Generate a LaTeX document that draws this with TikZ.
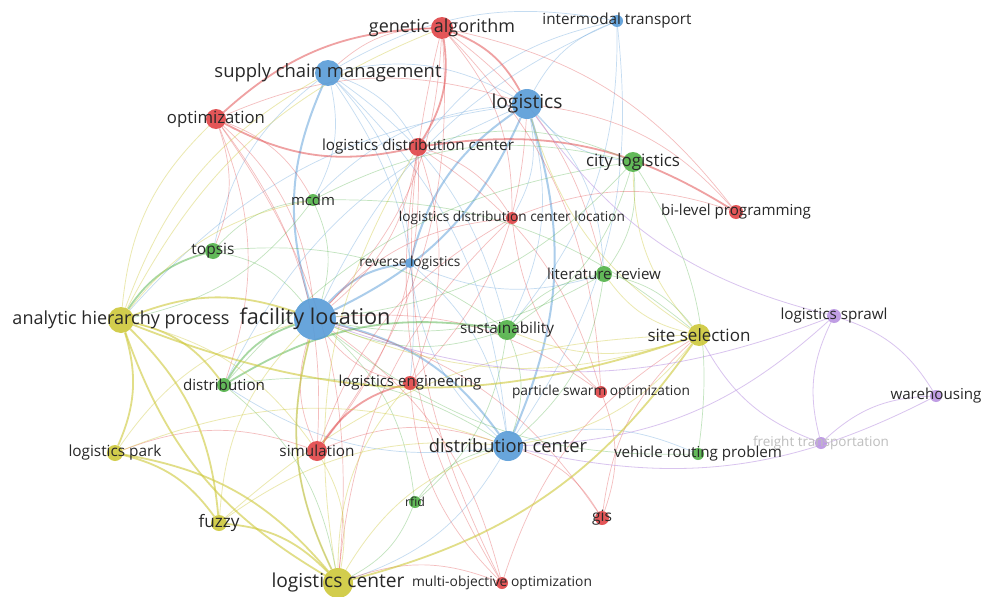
\documentclass[tikz,border=0pt]{standalone}
\usepackage{fontspec}
\usepackage{graphicx}
\setmainfont{Open Sans}
\usetikzlibrary{backgrounds}

\definecolor{vred}{RGB}{224,68,70}
\definecolor{vblue}{RGB}{88,156,216}
\definecolor{vgreen}{RGB}{82,178,72}
\definecolor{vyellow}{RGB}{206,200,58}
\definecolor{vpurple}{RGB}{186,148,226}
\definecolor{vtext}{RGB}{40,40,40}

\tikzset{
  kwnode/.style={circle, inner sep=0pt, fill opacity=.9},
  kwlabel/.style={inner sep=0pt, text=vtext},
  thinb/.style={draw=vblue, opacity=.35, line width=.7pt},
  thickb/.style={draw=vblue, opacity=.5, line width=2pt},
  thinr/.style={draw=vred, opacity=.35, line width=.7pt},
  thickr/.style={draw=vred, opacity=.5, line width=1.8pt},
  thing/.style={draw=vgreen, opacity=.35, line width=.7pt},
  thickg/.style={draw=vgreen, opacity=.5, line width=1.8pt},
  thiny/.style={draw=vyellow, opacity=.4, line width=.8pt},
  thicky/.style={draw=vyellow, opacity=.6, line width=1.8pt},
  thinp/.style={draw=vpurple, opacity=.55, line width=.8pt},
}

% name/x/y/radius/colour/label width/label
\def\kwlist{fl/315/319/21/vblue/151/facility location,
  lg/527/104/15/vblue/71/logistics,
  scm/328/73/13/vblue/227/supply chain management,
  dc/508/446/15/vblue/158/distribution center,
  it/617/21/6/vblue/149/intermodal transport,
  rl/410/263/5/vblue/101/reverse logistics,
  ga/442/28/11/vred/146/genetic algorithm,
  opt/216/119/10/vred/98/optimization,
  ldc/418/147/9/vred/192/logistics distribution center,
  ldcl/512/218/6/vred/226/logistics distribution center location,
  blp/736/212/7/vred/150/bi-level programming,
  le/410/383/7/vred/143/logistics engineering,
  pso/601/392/6/vred/178/particle swarm optimization,
  sim/317/451/10/vred/75/simulation,
  gis/602/518/7/vred/20/gis,
  moo/502/583/6/vred/180/multi-objective optimization,
  cl/633/162/10/vgreen/94/city logistics,
  mcdm/313/200/6/vgreen/44/mcdm,
  top/213/251/8/vgreen/43/topsis,
  lr/604/274/8/vgreen/114/literature review,
  sus/507/330/10/vgreen/94/sustainability,
  dis/224/385/7/vgreen/82/distribution,
  vrp/698/454/6/vgreen/168/vehicle routing problem,
  rfid/415/502/6/vgreen/20/rfid,
  ahp/121/320/13/vyellow/217/analytic hierarchy process,
  ss/699/335/11/vyellow/103/site selection,
  lp/115/453/8/vyellow/93/logistics park,
  fz/219/523/8/vyellow/41/fuzzy,
  lc/338/583/15/vyellow/133/logistics center,
  lsp/834/316/7/vpurple/107/logistics sprawl,
  wh/936/396/6/vpurple/91/warehousing}

\begin{document}
\begin{tikzpicture}[x=1pt, y=-1pt]
    \useasboundingbox (0,0) rectangle (983,597);
    % keywords
    \foreach \n/\x/\y/\r/\c/\w/\t in \kwlist
        \node[kwnode, fill=\c, minimum size=2*\r pt] (\n) at (\x,\y) {};
    \node[kwnode, fill=vpurple, minimum size=12pt] (ft) at (821,443) {};
    \foreach \n/\x/\y/\r/\c/\w/\t in \kwlist
        \node[kwlabel] (\n-l) at (\x,\y) {\resizebox{\w pt}{!}{\t}};
    \node[kwlabel, text=vtext!30] (ft-l) at (821,443) {\resizebox{136pt}{!}{freight transportation}};
    % links
    \begin{scope}[on background layer]
    \fill[white] (0,0) rectangle (983,597);
    \foreach \a/\b/\s in {lg/fl/thickb, rl/lg/thickb, fl/rl/thickb, fl/scm/thickb,
        fl/dc/thickb, lg/dc/thickb, scm/lg/thinb, scm/it/thinb, fl/it/thinb,
        lg/it/thinb, scm/dc/thinb, scm/rl/thinb, dc/rl/thinb, scm/ldc/thinb,
        dc/vrp/thinb, lg/sus/thinb, cl/lg/thinb, ldc/it/thinb, it/dc/thinb,
        scm/sus/thinb, ahp/lg/thinb, lc/fl/thinb, dc/dis/thinb, dc/lc/thinb,
        lg/ldcl/thinb, dis/lg/thinb, lg/lr/thinb, mcdm/lg/thinb, top/scm/thinb,
        scm/mcdm/thinb, lr/rl/thinb, it/sus/thinb, rl/dc/thinb, scm/le/thinb}
        \draw[\s] (\a) to[bend left=20] (\b);
    \foreach \a/\b/\s in {opt/ga/thickr, ga/ldc/thickr, ga/lg/thickr, ga/blp/thinr,
        ga/fl/thinr, scm/ga/thinr, ga/ldcl/thinr, ga/sim/thinr, ldc/opt/thickr,
        opt/fl/thinr, opt/sim/thinr, opt/lg/thinr, opt/lc/thinr, ldc/blp/thickr,
        ldc/ldcl/thinr, ldc/le/thinr, ldc/sim/thinr, ldc/fl/thinr, ldc/pso/thinr,
        sim/le/thickr, le/fl/thinr, lg/le/thinr, sim/fl/thinr, sim/ldcl/thinr,
        lp/sim/thinr, pso/ldcl/thinr, fl/pso/thinr, pso/gis/thinr, gis/ss/thinr,
        fl/gis/thinr, dc/gis/thinr, fl/moo/thinr, lc/moo/thinr, moo/ss/thinr,
        moo/ldc/thinr, moo/le/thinr, ldcl/blp/thinr, fl/ldcl/thinr, lc/ldcl/thinr,
        opt/dis/thinr, opt/mcdm/thinr, ga/pso/thinr, ga/lr/thinr, opt/top/thinr,
        lg/blp/thinr, sim/dc/thinr, moo/ga/thinr}
        \draw[\s] (\a) to[bend left=20] (\b);
    \foreach \a/\b/\s in {dis/fl/thickg, dis/sus/thickg, cl/fl/thing, cl/sus/thing,
        cl/lr/thing, ldc/cl/thing, sus/fl/thing, sus/lr/thing, lr/fl/thing,
        lr/ss/thing, lr/dc/thing, ahp/top/thickg, top/fl/thing, top/mcdm/thing,
        mcdm/ahp/thing, mcdm/fl/thing, mcdm/ss/thing, vrp/fl/thing, cl/vrp/thing,
        rfid/dc/thing, fl/rfid/thing, rfid/lc/thing, dis/dc/thing, dis/lc/thing,
        sus/dc/thing, mcdm/cl/thing, top/sus/thing, dis/cl/thing, sus/rfid/thing}
        \draw[\s] (\a) to[bend left=20] (\b);
    \foreach \a/\b/\s in {lc/ahp/thicky, ahp/fz/thicky, ahp/lp/thicky, ahp/fl/thicky,
        ss/ahp/thicky, ahp/dis/thicky, lp/fz/thicky, lp/lc/thicky, fz/lc/thicky,
        ss/lc/thicky, fz/ss/thiny, ss/fl/thiny, ss/dc/thiny, ahp/opt/thiny,
        ahp/scm/thiny, ahp/ga/thiny, ahp/mcdm/thiny, ahp/sim/thiny, lc/fl/thicky,
        sim/lc/thiny, lc/dc/thiny, lc/le/thiny, lc/ldc/thiny, lp/fl/thiny,
        fz/fl/thiny, ss/lg/thiny, ss/cl/thiny, ss/lr/thiny, fz/dc/thiny,
        lp/dc/thiny, ss/sus/thiny}
        \draw[\s] (\a) to[bend left=20] (\b);
    \foreach \a/\b/\s in {lsp/wh/thinp, ft/lsp/thinp, ft/wh/thinp, lsp/lg/thinp,
        lsp/dc/thinp, ft/ss/thinp, wh/dc/thinp, lsp/fl/thinp}
        \draw[\s] (\a) to[bend left=20] (\b);
    \end{scope}
\end{tikzpicture}
\end{document}
